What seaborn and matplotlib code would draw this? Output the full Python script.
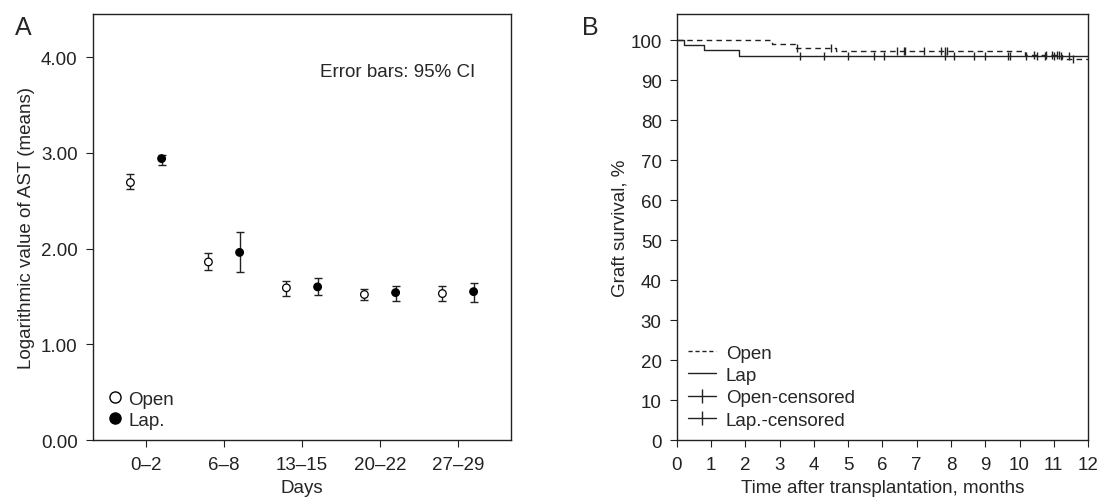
import numpy as np
import pandas as pd
import matplotlib
matplotlib.use("Agg")
import matplotlib.pyplot as plt
from matplotlib.lines import Line2D
import seaborn as sns

# Panel A: log AST means with 95% CI
days = ["0\u20132", "6\u20138", "13\u201315", "20\u201322", "27\u201329"]
open_mean = [2.69, 1.86, 1.59, 1.52, 1.53]
open_lo = [2.62, 1.78, 1.50, 1.46, 1.45]
open_hi = [2.78, 1.95, 1.66, 1.58, 1.61]
lap_mean = [2.94, 1.96, 1.60, 1.54, 1.55]
lap_lo = [2.87, 1.75, 1.51, 1.45, 1.44]
lap_hi = [2.98, 2.17, 1.69, 1.61, 1.64]

# Panel B: Kaplan-Meier graft survival
open_times = [0, 2.77, 3.45, 4.64, 10.15, 11.25, 12]
open_surv = [100, 99.0, 98.1, 97.2, 96.2, 95.2, 95.2]
lap_times = [0, 0.2, 0.79, 1.81, 12]
lap_surv = [100, 98.7, 97.4, 96.0, 96.0]
open_cens = [3.5, 4.49, 6.41, 6.62, 6.67, 7.22, 7.71, 7.82, 7.87,
             10.42, 10.78, 10.96, 11.09, 11.16, 11.56]
lap_cens = [3.58, 4.28, 4.98, 5.76, 6.05, 7.82, 8.10, 8.67, 8.98,
            9.66, 9.72, 10.18, 10.5, 10.75, 11.0, 11.2, 11.45]

sns.set_style("ticks")
plt.rcParams["font.family"] = ["Liberation Sans", "DejaVu Sans"]
plt.rcParams["font.size"] = 13.5
plt.rcParams["axes.labelsize"] = 13.5
plt.rcParams["xtick.labelsize"] = 13.5
plt.rcParams["ytick.labelsize"] = 13.5
plt.rcParams["axes.linewidth"] = 1.0
plt.rcParams["xtick.major.size"] = 5
plt.rcParams["ytick.major.size"] = 5
plt.rcParams["xtick.major.pad"] = 6.5
plt.rcParams["ytick.major.pad"] = 6
ink = "#222222"

fig = plt.figure(figsize=(10.99, 5.02), dpi=100)
axA = fig.add_axes([0.0846, 0.1215, 0.3804, 0.8485])
axB = fig.add_axes([0.616, 0.1215, 0.374, 0.8485])

# ---- Panel A
off = 0.2
pos = np.arange(len(days))
dfA = pd.DataFrame({
    "x": np.concatenate([pos - off, pos + off]),
    "mean": open_mean + lap_mean,
    "lo": open_lo + lap_lo,
    "hi": open_hi + lap_hi,
    "group": ["Open"] * len(days) + ["Lap."] * len(days),
})
axA.errorbar(dfA["x"], dfA["mean"],
             yerr=[dfA["mean"] - dfA["lo"], dfA["hi"] - dfA["mean"]],
             fmt="none", ecolor=ink, elinewidth=1.0, capsize=3, capthick=1.0, zorder=2)
sns.scatterplot(data=dfA, x="x", y="mean", hue="group",
                palette={"Open": "white", "Lap.": "black"},
                edgecolor="black", linewidth=0.9, s=30, legend=False, ax=axA, zorder=3)
axA.set_xlim(-0.68, 4.68)
axA.set_ylim(0, 4.45)
axA.set_xticks(pos)
axA.set_xticklabels(days)
axA.set_yticks([0, 1, 2, 3, 4])
axA.set_yticklabels(["0.00", "1.00", "2.00", "3.00", "4.00"])
axA.set_xlabel("Days", labelpad=4)
axA.set_ylabel("Logarithmic value of AST (means)", labelpad=4)
axA.text(0.914, 0.864, "Error bars: 95% CI", transform=axA.transAxes,
         ha="right", va="center")
legA = [Line2D([], [], ls="none", marker="o", mfc="white", mec="black", ms=8, label="Open"),
        Line2D([], [], ls="none", marker="o", mfc="black", mec="black", ms=8, label="Lap.")]
axA.legend(handles=legA, loc="lower left", frameon=False, handletextpad=0.1,
           borderaxespad=0.2, labelspacing=0.2, handlelength=1.2)
fig.text(0.014, 0.93, "A", fontsize=18)

# ---- Panel B
def level_at(times, surv, t):
    idx = np.searchsorted(times, t, side="right") - 1
    return [surv[i] for i in idx]

km = pd.concat([
    pd.DataFrame({"t": open_times, "s": open_surv, "group": "Open"}),
    pd.DataFrame({"t": lap_times, "s": lap_surv, "group": "Lap"}),
])
sns.lineplot(data=km[km.group == "Open"], x="t", y="s", drawstyle="steps-post",
             color=ink, lw=1.0, ls=(0, (4, 3)), ax=axB, legend=False)
sns.lineplot(data=km[km.group == "Lap"], x="t", y="s", drawstyle="steps-post",
             color=ink, lw=1.0, ax=axB, legend=False)
cens = pd.concat([
    pd.DataFrame({"t": open_cens, "s": level_at(open_times, open_surv, open_cens), "group": "Open"}),
    pd.DataFrame({"t": lap_cens, "s": level_at(lap_times, lap_surv, lap_cens), "group": "Lap"}),
])
sns.scatterplot(data=cens, x="t", y="s", marker="|", color=ink, s=30,
                linewidth=1.0, legend=False, ax=axB, zorder=3)
axB.set_xlim(0, 12)
axB.set_ylim(0, 106.5)
axB.set_xticks(range(0, 13))
axB.set_yticks(range(0, 101, 10))
axB.set_xlabel("Time after transplantation, months", labelpad=4)
axB.set_ylabel("Graft survival, %", labelpad=1)
legB = [Line2D([], [], color=ink, lw=1.0, ls=(0, (3, 2)), label="Open"),
        Line2D([], [], color=ink, lw=1.0, label="Lap"),
        Line2D([], [], color=ink, lw=1.0, marker="|", ms=10, label="Open-censored"),
        Line2D([], [], color=ink, lw=1.0, marker="|", ms=10, label="Lap.-censored")]
axB.legend(handles=legB, loc="lower left", frameon=False, handletextpad=0.5,
           borderaxespad=0.2, labelspacing=0.28, handlelength=1.5)
fig.text(0.53, 0.93, "B", fontsize=18)

for ax in (axA, axB):
    for sp in ax.spines.values():
        sp.set_visible(True)
        sp.set_color(ink)
    ax.tick_params(colors=ink, labelcolor=ink)

fig.savefig("out.png", dpi=100)
